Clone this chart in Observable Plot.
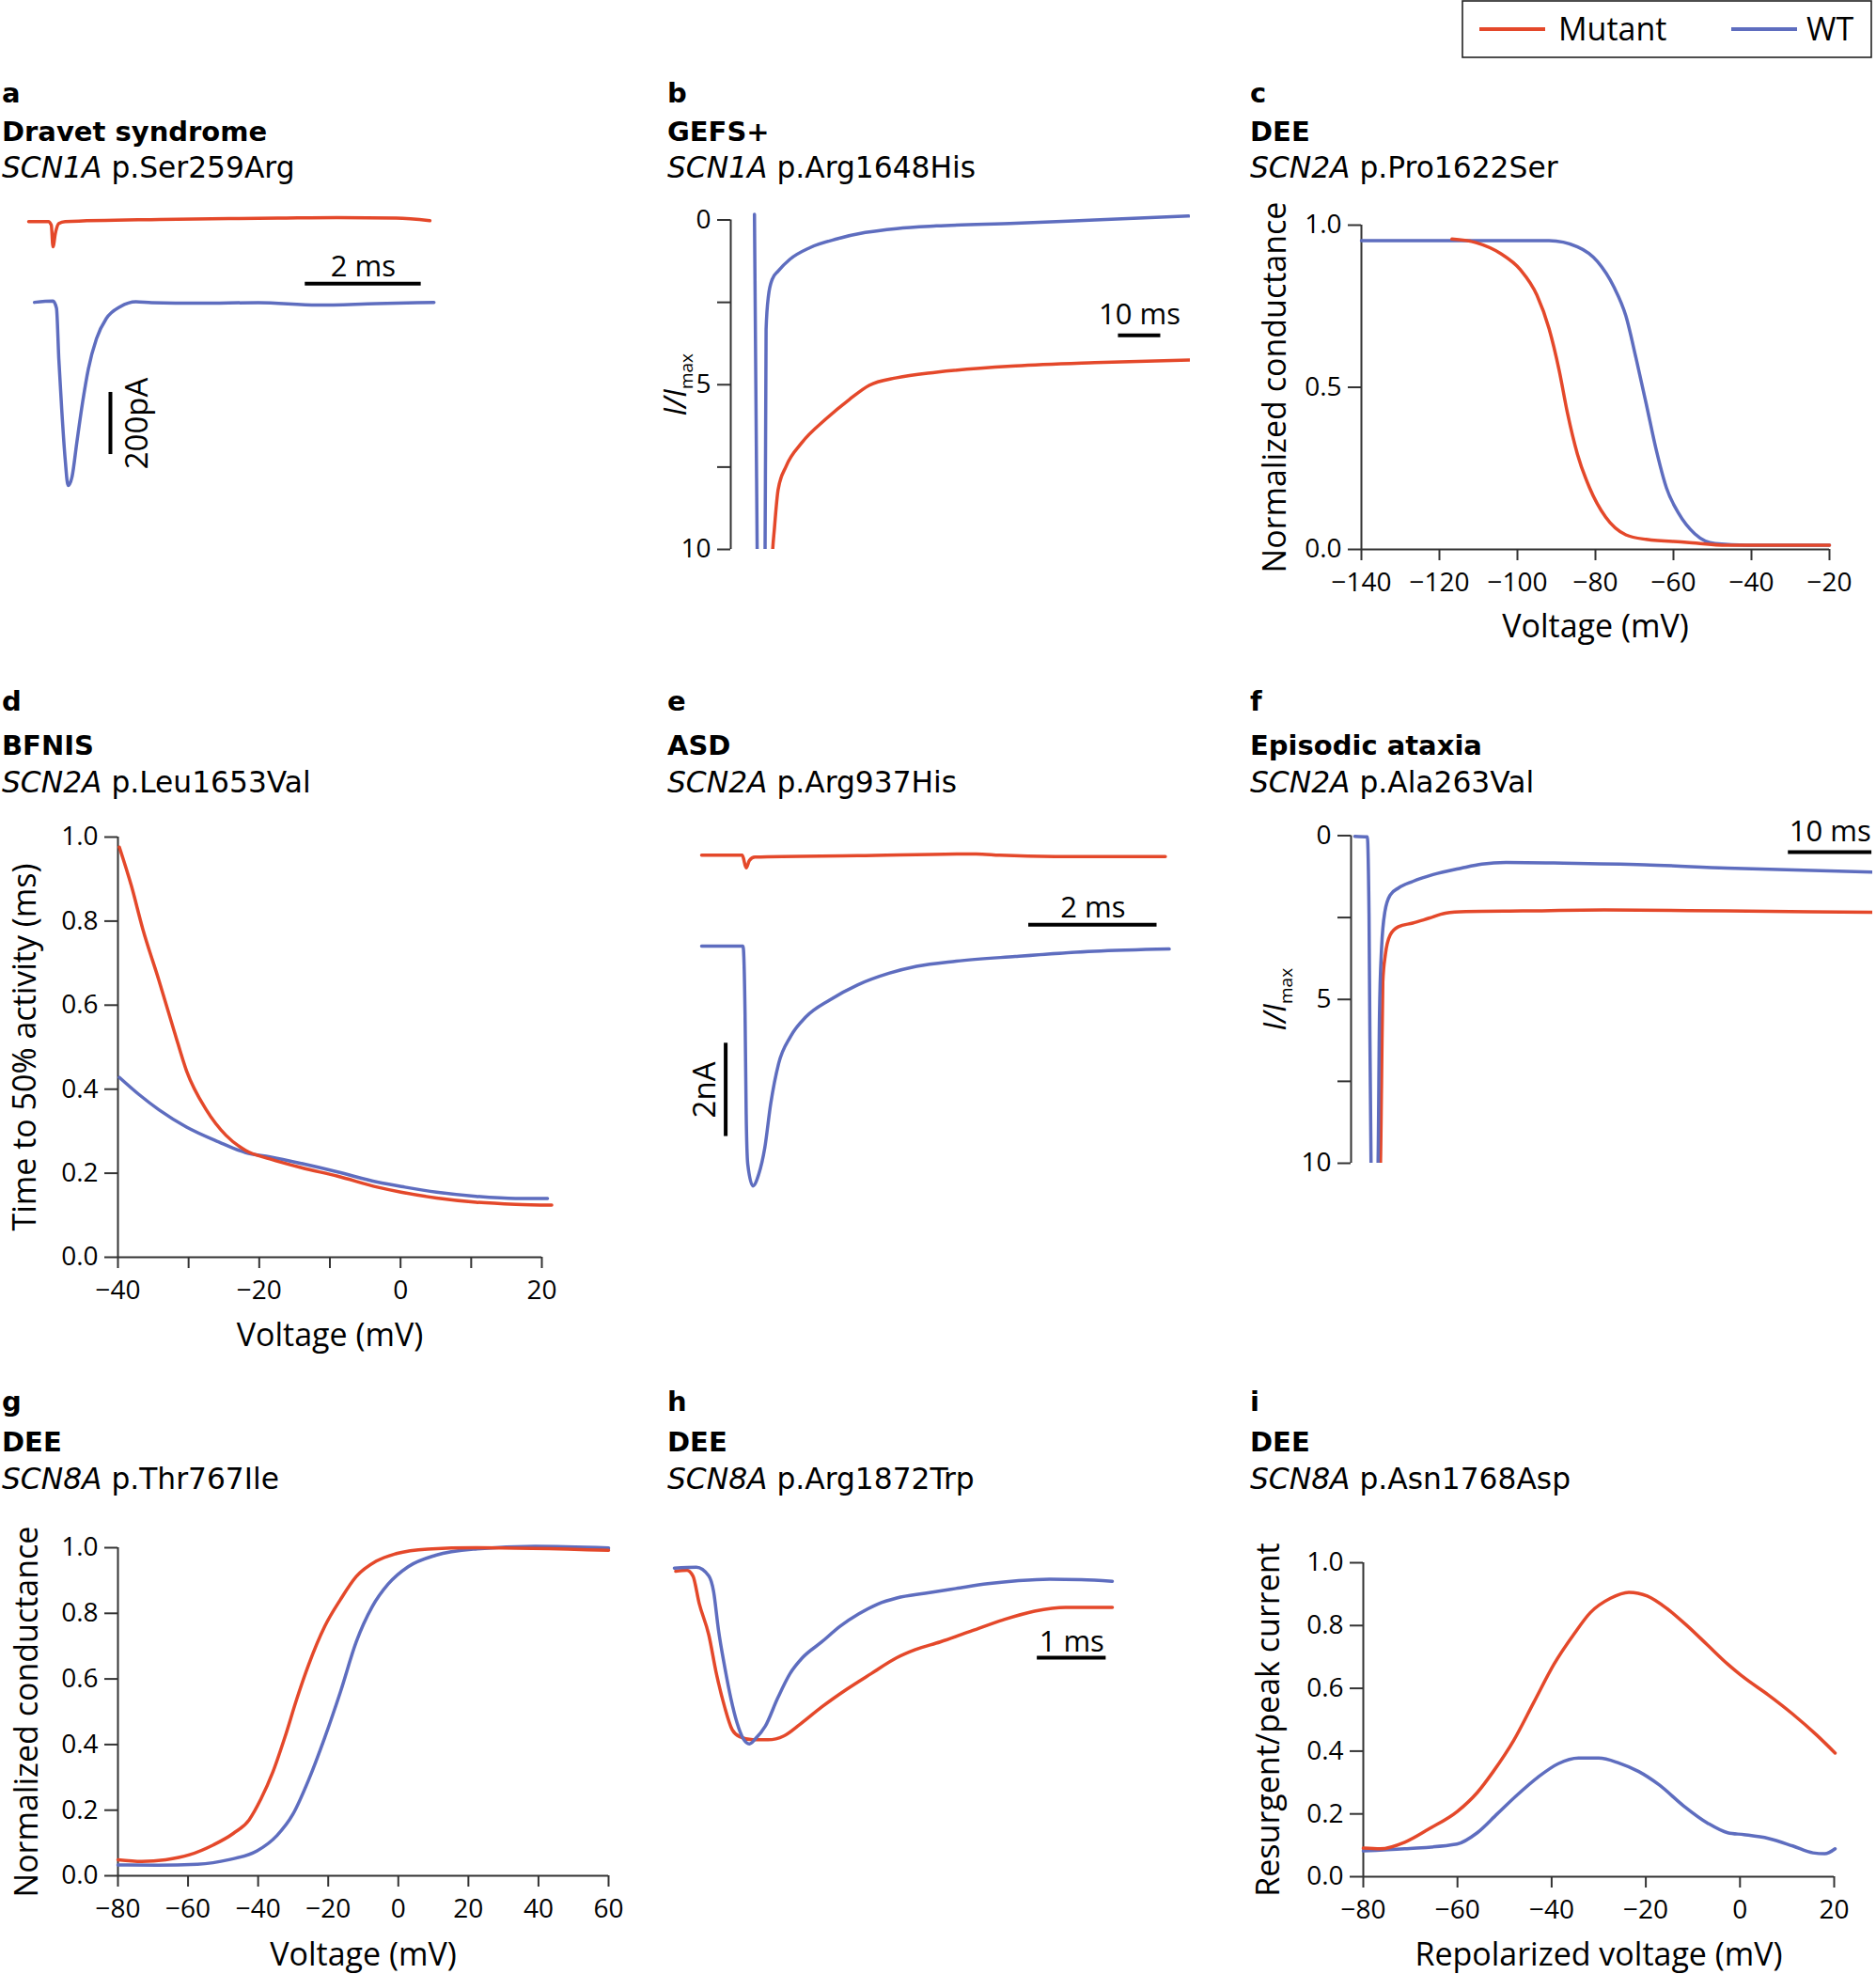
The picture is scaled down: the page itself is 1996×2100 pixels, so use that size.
<!DOCTYPE html>
<html><head><meta charset="utf-8">
<script src="https://cdn.jsdelivr.net/npm/d3@7"></script>
<script src="https://cdn.jsdelivr.net/npm/@observablehq/plot@0.6"></script>
<style>
html,body{margin:0;padding:0;background:#fff;}
#page{position:relative;width:1996px;height:2100px;overflow:hidden;background:#fff;}
</style></head><body><div id="page"></div>
<script>
// ================= DATA =================
// a: Dravet syndrome, SCN1A p.Ser259Arg  (time ms, current pA)
const aMutant = [[0,-3],[0.34,-3],[0.39,-14],[0.42,-84],[0.46,-41],[0.52,-9],[0.63,-3],[2.26,4],[4.3,8],[5.32,10],[6.34,8],[6.92,0]];
const aWT = [[0.1,0],[0.42,4],[0.48,-19],[0.52,-182],[0.57,-344],[0.63,-506],[0.68,-590],[0.75,-560],[0.83,-452],[0.93,-322],[1.03,-214],[1.17,-117],[1.34,-52],[1.58,-14],[1.85,2],[2.12,-1],[2.94,-3],[3.96,-1],[4.98,-9],[6.0,-4],[6.99,0]];
// b: GEFS+, SCN1A p.Arg1648His  (time ms, I/Imax)
const bWT = [[0,-0.17],[0.66,10.3],[1.6,10.6],[2.5,10.3],[2.75,3.32],[3.3,2.31],[4.2,1.80],[5.6,1.55],[8.4,1.19],[13.1,0.84],[19.6,0.57],[26.2,0.38],[33.6,0.26],[43.0,0.18],[61.7,0.10],[80.4,0.0],[102.6,-0.12]];
const bMutant = [[4.1,10.6],[4.25,10.15],[4.7,9.39],[5.6,8.18],[7.5,7.47],[11.2,6.76],[16.8,6.05],[22.4,5.45],[27.1,5.02],[33.6,4.79],[43.0,4.62],[61.7,4.43],[80.4,4.33],[102.8,4.25]];
// c: DEE, SCN2A p.Pro1622Ser (voltage mV, normalized conductance)
const cWT = [[-140,0.952],[-91.9,0.952],[-84.6,0.933],[-79.5,0.888],[-75.3,0.81],[-72.2,0.72],[-69.6,0.59],[-67.0,0.45],[-64.4,0.306],[-61.8,0.19],[-58.7,0.112],[-54.5,0.048],[-49.3,0.018],[-41.0,0.013],[-20,0.013]];
const cMutant = [[-116.8,0.957],[-110.6,0.946],[-104.4,0.913],[-99.2,0.862],[-95.0,0.784],[-91.9,0.681],[-89.3,0.552],[-87.2,0.422],[-84.6,0.293],[-81.5,0.19],[-77.4,0.10],[-72.2,0.045],[-67.0,0.031],[-56.6,0.022],[-46.2,0.013],[-20,0.013]];
// d: BFNIS, SCN2A p.Leu1653Val (voltage mV, time to 50% activity ms)
const dMutant = [[-39.8,0.976],[-38.1,0.884],[-36.5,0.782],[-34.2,0.659],[-32.0,0.536],[-30.3,0.444],[-27.5,0.351],[-24.7,0.29],[-21.9,0.254],[-18.5,0.234],[-14.0,0.213],[-8.9,0.193],[-3.3,0.167],[0.06,0.155],[5.1,0.141],[10.7,0.131],[16.3,0.126],[21.4,0.124]];
const dWT = [[-39.8,0.428],[-37.0,0.387],[-34.2,0.351],[-30.3,0.31],[-25.8,0.275],[-21.9,0.249],[-18.5,0.239],[-14.0,0.223],[-8.9,0.203],[-3.3,0.179],[0.6,0.167],[5.1,0.155],[10.7,0.145],[16.3,0.14],[20.8,0.14]];
// e: ASD, SCN2A p.Arg937His (time ms, current nA)
const eWT = [[0,0],[0.646,0],[0.677,-1.44],[0.695,-3.6],[0.72,-4.68],[0.8,-5.14],[0.89,-4.89],[0.985,-4.32],[1.077,-3.38],[1.2,-2.52],[1.385,-1.94],[1.63,-1.51],[2.0,-1.15],[2.43,-0.83],[2.92,-0.58],[3.35,-0.43],[3.97,-0.32],[4.89,-0.22],[6.12,-0.11],[7.29,-0.06]];
const eMutant = [[0,0],[0.634,0],[0.695,-0.27],[0.745,-0.11],[0.83,-0.04],[2.43,-0.01],[4.28,0.03],[4.65,0],[5.51,-0.03],[7.23,-0.03]];
// f: Episodic ataxia, SCN2A p.Ala263Val (time ms, I/Imax)
const fWT = [[0,0.02],[1.5,0.04],[1.7,2.4],[1.95,10.3],[2.35,10.6],[2.75,10.3],[2.95,5.5],[3.2,3.44],[3.6,2.32],[4.24,1.81],[5.22,1.6],[6.93,1.4],[9.37,1.19],[12.78,0.99],[15.2,0.87],[18.1,0.82],[25,0.84],[34.7,0.89],[44.5,0.99],[62,1.11]];
const fMutant = [[2.9,10.6],[3.05,10.2],[3.2,7.5],[3.35,4.46],[3.65,3.64],[4.24,3.03],[5.22,2.78],[6.93,2.67],[8.88,2.52],[10.83,2.37],[13.27,2.32],[20.1,2.3],[29.85,2.27],[44.5,2.3],[62,2.34]];
// g: DEE, SCN8A p.Thr767Ile (voltage mV, normalized conductance)
const gMutant = [[-80,0.049],[-73.2,0.044],[-66.4,0.049],[-59.6,0.064],[-52.8,0.094],[-47.1,0.129],[-42.6,0.17],[-39.2,0.234],[-35.8,0.316],[-32.4,0.421],[-29.0,0.538],[-25.6,0.643],[-21.0,0.76],[-16.5,0.842],[-12.0,0.912],[-6.3,0.959],[-0.6,0.982],[8.4,0.996],[22.0,1.0],[60,0.992]];
const gWT = [[-80,0.033],[-68.7,0.032],[-57.3,0.035],[-48.3,0.049],[-40.3,0.076],[-34.6,0.123],[-30.1,0.187],[-25.6,0.292],[-21.0,0.421],[-16.5,0.561],[-12.0,0.713],[-7.5,0.819],[-2.9,0.889],[2.8,0.942],[10.7,0.977],[22.0,0.996],[39.0,1.004],[60,0.999]];
// h: DEE, SCN8A p.Arg1872Trp (time ms, normalized current)
const hWT = [[0,0],[0.32,0.005],[0.5,-0.045],[0.57,-0.134],[0.64,-0.35],[0.73,-0.56],[0.82,-0.74],[0.91,-0.88],[1.0,-0.97],[1.09,-1.0],[1.18,-0.97],[1.32,-0.9],[1.5,-0.74],[1.68,-0.6],[1.86,-0.51],[2.14,-0.42],[2.41,-0.33],[2.68,-0.26],[2.95,-0.205],[3.23,-0.17],[3.64,-0.143],[4.09,-0.116],[4.55,-0.089],[5.0,-0.071],[5.45,-0.0625],[5.91,-0.066],[6.36,-0.075]];
const hMutant = [[0.02,-0.018],[0.18,-0.0125],[0.27,-0.045],[0.36,-0.2],[0.5,-0.38],[0.61,-0.6],[0.73,-0.79],[0.84,-0.92],[0.95,-0.96],[1.14,-0.977],[1.36,-0.977],[1.59,-0.955],[1.82,-0.89],[2.14,-0.79],[2.5,-0.69],[2.86,-0.6],[3.23,-0.51],[3.5,-0.464],[3.86,-0.42],[4.32,-0.357],[4.77,-0.295],[5.23,-0.245],[5.68,-0.223],[6.36,-0.223]];
// i: DEE, SCN8A p.Asn1768Asp (repolarized voltage mV, resurgent/peak current)
const iMutant = [[-80,0.091],[-76.4,0.089],[-71.2,0.11],[-66.1,0.152],[-60.1,0.207],[-55.8,0.268],[-52.4,0.335],[-48.1,0.433],[-43.8,0.555],[-39.5,0.677],[-35.2,0.774],[-31.8,0.841],[-27.5,0.887],[-23.6,0.906],[-19.7,0.894],[-15.5,0.854],[-11.2,0.799],[-6.9,0.738],[-2.6,0.677],[0.86,0.634],[6.0,0.579],[11.2,0.518],[16.3,0.451],[20.2,0.394]];
const iWT = [[-80,0.082],[-71.2,0.089],[-60.1,0.104],[-55.8,0.14],[-51.5,0.201],[-47.2,0.262],[-42.9,0.317],[-38.6,0.36],[-34.3,0.378],[-30.0,0.378],[-25.7,0.362],[-21.5,0.335],[-17.2,0.293],[-12.0,0.226],[-6.9,0.171],[-2.6,0.14],[0.86,0.134],[6.0,0.122],[11.2,0.098],[15.5,0.076],[18.0,0.073],[20.2,0.089]];

// tick values
const cXTicks = [-140,-120,-100,-80,-60,-40,-20];
const cYTicks = [0,0.5,1];
const dXTicks = [-40,-30,-20,-10,0,10,20];
const fracTicks = [0,0.2,0.4,0.6,0.8,1];
const gXTicks = [-80,-60,-40,-20,0,20,40,60];
const iXTicks = [-80,-60,-40,-20,0,20];
const iTicks = [0,2.5,5,7.5,10];

// headings and legend
const headings = [
  {id:"a", title:"Dravet syndrome", gene:"SCN1A", variant:"p.Ser259Arg"},
  {id:"b", title:"GEFS+", gene:"SCN1A", variant:"p.Arg1648His"},
  {id:"c", title:"DEE", gene:"SCN2A", variant:"p.Pro1622Ser"},
  {id:"d", title:"BFNIS", gene:"SCN2A", variant:"p.Leu1653Val"},
  {id:"e", title:"ASD", gene:"SCN2A", variant:"p.Arg937His"},
  {id:"f", title:"Episodic ataxia", gene:"SCN2A", variant:"p.Ala263Val"},
  {id:"g", title:"DEE", gene:"SCN8A", variant:"p.Thr767Ile"},
  {id:"h", title:"DEE", gene:"SCN8A", variant:"p.Arg1872Trp"},
  {id:"i", title:"DEE", gene:"SCN8A", variant:"p.Asn1768Asp"}
];
const legendLabels = ["Mutant", "WT"];

// ================= STYLE / LAYOUT =================
const RED = "#E4482A", BLUE = "#5E6DBF", AXIS = "#333";
const FONT = "'Open Sans', 'Noto Sans', sans-serif";
const HEAD_FONT = "'DejaVu Sans', sans-serif";
const TICK_FS = 28, LABEL_FS = 34, TITLE_FS = 29, SUB_FS = 31.3, BAR_FS = 31, VBAR_FS = 33;
const A_OFFSET = 263;   // display offset of mutant trace in a (pA)
const E_OFFSET = 1.95;  // display offset of mutant trace in e (nA)
const page = document.getElementById("page");
const minus = d => d < 0 ? "\u2212" + (-d) : String(d);

function panel(frame, options) {
  const M = {l: 40, r: 20, t: 20, b: 20};
  const w = frame.x1 - frame.x0, h = frame.y1 - frame.y0;
  const svg = Plot.plot({
    width: M.l + w + M.r, height: M.t + h + M.b,
    marginLeft: M.l, marginRight: M.r, marginTop: M.t, marginBottom: M.b,
    style: {background: "transparent", overflow: "visible", fontFamily: FONT, fontSize: TICK_FS + "px", color: "#000"},
    ...options
  });
  svg.style.position = "absolute";
  svg.style.left = (frame.x0 - M.l) + "px";
  svg.style.top = (frame.y0 - M.t) + "px";
  svg.style.maxWidth = "none";
  page.appendChild(svg);
  svg.querySelectorAll("text").forEach(t => {
    if (t.textContent === "I/Imax") {
      t.textContent = "";
      const ns = "http://www.w3.org/2000/svg";
      const s1 = document.createElementNS(ns, "tspan");
      s1.setAttribute("font-style", "italic"); s1.textContent = "I/I"; t.appendChild(s1);
      const s2 = document.createElementNS(ns, "tspan");
      s2.setAttribute("font-size", "19"); s2.setAttribute("dy", "7"); s2.textContent = "max"; t.appendChild(s2);
    }
  });
  return svg;
}
const trace = (data, color, extra = {}) =>
  Plot.line(data, {x: d => d[0], y: d => d[1], stroke: color, strokeWidth: 3.5, curve: "monotone-x", strokeLinejoin: "round", strokeLinecap: "round", ...extra});
const hBar = (b) => [
  Plot.ruleY([b], {x1: "x1", x2: "x2", y: "y", stroke: "#000", strokeWidth: 4}),
  Plot.text([b], {x: d => (d.x1 + d.x2) / 2, y: "y", text: "label", dy: b.dy, lineAnchor: "bottom", fontSize: BAR_FS})
];
const vBar = (b) => [
  Plot.ruleX([b], {x: "x", y1: "y1", y2: "y2", stroke: "#000", strokeWidth: 4}),
  Plot.text([b], {x: "tx", y: d => (d.y1 + d.y2) / 2, text: "label", rotate: -90, textAnchor: "middle", lineAnchor: "middle", fontSize: VBAR_FS})
];
const axisLines = (xd, yd) => [
  Plot.ruleY([yd[0]], {x1: xd[0], x2: xd[xd.length - 1], stroke: AXIS, strokeWidth: 2}),
  Plot.ruleX([xd[0]], {y1: yd[0], y2: yd[yd.length - 1], stroke: AXIS, strokeWidth: 2})
];
const xAxis = (ticks, fmt) => Plot.axisX(ticks, {tickSize: 12, tickPadding: 13, tickFormat: fmt, label: null, fontSize: TICK_FS, stroke: AXIS, strokeWidth: 2, fill: "#000"});
const yAxis = (ticks, fmt) => Plot.axisY(ticks, {tickSize: 14, tickPadding: 7, tickFormat: fmt, label: null, fontSize: TICK_FS, stroke: AXIS, strokeWidth: 2, fill: "#000"});
const xLabel = (text, dy) => Plot.text([text], {text: d => d, frameAnchor: "bottom", dy, textAnchor: "middle", lineAnchor: "bottom", fontSize: LABEL_FS});
const yLabel = (text, dx, yv, fs = LABEL_FS) => Plot.text([text], {text: d => d, frameAnchor: "left", y: yv === undefined ? undefined : () => yv, dx, rotate: -90, textAnchor: "middle", lineAnchor: "middle", fontSize: fs});
const f1 = d3.format(".1f");

// ---- a ----
panel({x0: 30, x1: 468, y0: 222, y1: 526}, {
  x: {domain: [0, 7.1], axis: null}, y: {domain: [-620, 300], axis: null},
  marks: [
    trace(aWT, BLUE),
    trace(aMutant, RED, {y: d => d[1] + A_OFFSET}),
    ...hBar({x1: 4.77, x2: 6.77, y: 60, label: "2 ms", dy: -8}),
    ...vBar({x: 1.41, y1: -490, y2: -290, tx: 1.88, label: "200pA"})
  ]
});
// ---- b ----
panel({x0: 777, x1: 1266, y0: 216, y1: 584}, {
  x: {domain: [-5.6, 103], axis: null}, y: {domain: [-0.5, 10], reverse: true},
  marks: [
    Plot.ruleX([-5.6], {y1: 0, y2: 10, stroke: AXIS, strokeWidth: 2}),
    yAxis(iTicks, d => d % 5 === 0 ? String(d) : ""),
    yLabel("I/Imax", -58, 5, 32),
    trace(bWT, BLUE, {clip: true}),
    trace(bMutant, RED, {clip: true}),
    ...hBar({x1: 86, x2: 96, y: 3.5, label: "10 ms", dy: -12})
  ]
});
// ---- c ----
panel({x0: 1448, x1: 1946, y0: 239, y1: 584}, {
  x: {domain: [-140, -20]}, y: {domain: [0, 1]},
  marks: [
    ...axisLines(cXTicks, cYTicks),
    xAxis(cXTicks, minus), yAxis(cYTicks, f1),
    xLabel("Voltage (mV)", 93), yLabel("Normalized conductance", -91),
    trace(cWT, BLUE), trace(cMutant, RED)
  ]
});
// ---- d ----
panel({x0: 125, x1: 576, y0: 890, y1: 1337}, {
  x: {domain: [-40, 20]}, y: {domain: [0, 1]},
  marks: [
    ...axisLines(dXTicks, fracTicks),
    xAxis(dXTicks, d => d % 20 === 0 ? minus(d) : ""), yAxis(fracTicks, f1),
    xLabel("Voltage (mV)", 94), yLabel("Time to 50% activity (ms)", -98),
    trace(dWT, BLUE), trace(dMutant, RED)
  ]
});
// ---- e ----
panel({x0: 746, x1: 1251, y0: 892, y1: 1279}, {
  x: {domain: [0, 7.4], axis: null}, y: {domain: [-5.5, 2.3], axis: null},
  marks: [
    trace(eWT, BLUE),
    trace(eMutant, RED, {y: d => d[1] + E_OFFSET}),
    ...hBar({x1: 5.1, x2: 7.1, y: 0.46, label: "2 ms", dy: -8}),
    ...vBar({x: 0.375, y1: -4.08, y2: -2.08, tx: 0.06, label: "2nA"})
  ]
});
// ---- f ----
panel({x0: 1437, x1: 1992, y0: 878, y1: 1237}, {
  x: {domain: [-0.45, 62], axis: null}, y: {domain: [-0.3, 10], reverse: true},
  marks: [
    Plot.ruleX([-0.45], {y1: 0, y2: 10, stroke: AXIS, strokeWidth: 2}),
    yAxis(iTicks, d => d % 5 === 0 ? String(d) : ""),
    yLabel("I/Imax", -80, 5, 32),
    trace(fMutant, RED, {clip: true}),
    trace(fWT, BLUE, {clip: true}),
    ...hBar({x1: 51.9, x2: 61.9, y: 0.5, label: "10 ms", dy: -11})
  ]
});
// ---- g ----
panel({x0: 125, x1: 647, y0: 1646, y1: 1995}, {
  x: {domain: [-80, 60]}, y: {domain: [0, 1]},
  marks: [
    ...axisLines(gXTicks, fracTicks),
    xAxis(gXTicks, minus), yAxis(fracTicks, f1),
    xLabel("Voltage (mV)", 95), yLabel("Normalized conductance", -96),
    trace(gWT, BLUE), trace(gMutant, RED)
  ]
});
// ---- h ----
panel({x0: 717, x1: 1183, y0: 1649, y1: 1864}, {
  x: {domain: [0, 6.36], axis: null}, y: {domain: [-1.05, 0.1], axis: null},
  marks: [
    trace(hMutant, RED), trace(hWT, BLUE),
    ...hBar({x1: 5.27, x2: 6.27, y: -0.51, label: "1 ms", dy: -7})
  ]
});
// ---- i ----
panel({x0: 1450, x1: 1951, y0: 1662, y1: 1996}, {
  x: {domain: [-80, 20]}, y: {domain: [0, 1]},
  marks: [
    ...axisLines(iXTicks, fracTicks),
    xAxis(iXTicks, minus), yAxis(fracTicks, f1),
    xLabel("Repolarized voltage (mV)", 94), yLabel("Resurgent/peak current", -100),
    trace(iWT, BLUE), trace(iMutant, RED)
  ]
});

// ================= HEADINGS + LEGEND =================
const colX = [2, 710, 1330];
const rowY = [[109, 150, 189], [756, 803, 843], [1501, 1544, 1584]];
const ov = d3.select(page).append("svg")
  .attr("width", 1996).attr("height", 2100)
  .style("position", "absolute").style("left", "0px").style("top", "0px")
  .style("font-family", HEAD_FONT);
headings.forEach((h, k) => {
  const x = colX[k % 3], [y0, y1, y2] = rowY[Math.floor(k / 3)];
  const t = ov.append("text").attr("font-size", SUB_FS);
  t.append("tspan").attr("x", x).attr("y", y0).attr("font-size", TITLE_FS).attr("font-weight", 700).text(h.id);
  t.append("tspan").attr("x", x).attr("y", y1).attr("font-size", TITLE_FS).attr("font-weight", 700).text(h.title);
  t.append("tspan").attr("x", x).attr("y", y2).attr("font-style", "italic").text(h.gene);
  t.append("tspan").text(" " + h.variant);
});
const lg = ov.append("g").style("font-family", FONT);
lg.append("rect").attr("x", 1556).attr("y", 1).attr("width", 435).attr("height", 60)
  .attr("fill", "#fff").attr("stroke", "#222").attr("stroke-width", 1.6);
const lgX = [{line: 1574, text: 1658}, {line: 1842, text: 1922}];
legendLabels.forEach((lab, k) => {
  lg.append("line").attr("x1", lgX[k].line).attr("x2", lgX[k].line + 70).attr("y1", 31).attr("y2", 31)
    .attr("stroke", k === 0 ? RED : BLUE).attr("stroke-width", 4);
  lg.append("text").attr("x", lgX[k].text).attr("y", 43).attr("font-size", 34).text(lab);
});
</script></body></html>
